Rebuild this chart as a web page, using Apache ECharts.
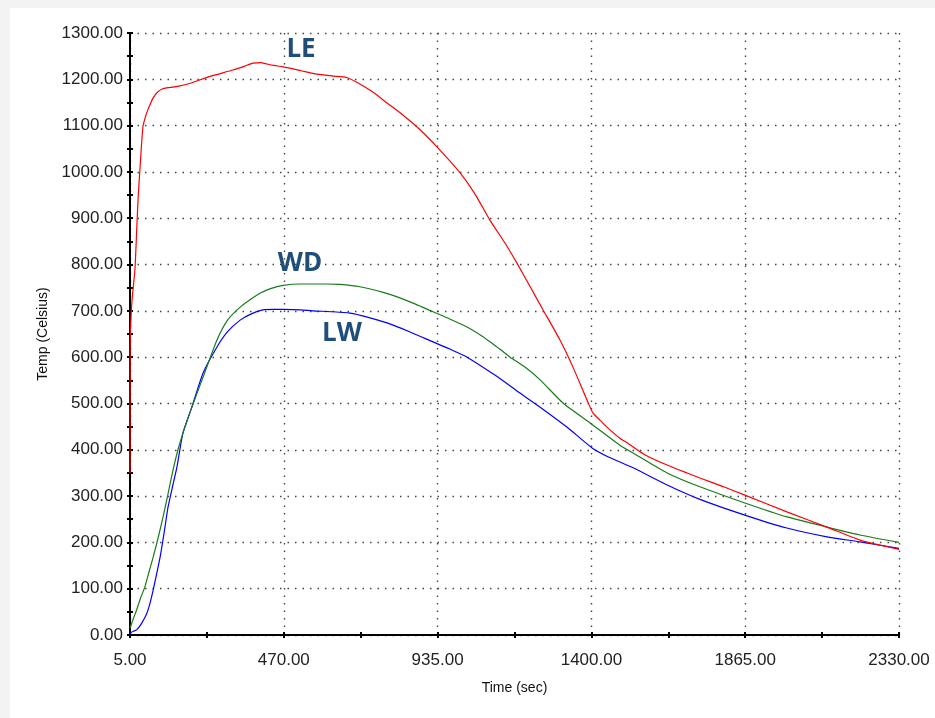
<!DOCTYPE html>
<html>
<head>
<meta charset="utf-8">
<script src="https://cdn.jsdelivr.net/npm/echarts@6/dist/echarts.min.js"></script>
<style>
  html, body { margin: 0; padding: 0; background: #f3f3f3; width: 935px; height: 718px; overflow: hidden; }
  #chart { position: absolute; left: 10px; top: 8px; width: 925px; height: 710px; background: #ffffff; }
</style>
</head>
<body>
<div id="chart"></div>
<script>
// ---- data ----
var xTickLabels = ['5.00', '470.00', '935.00', '1400.00', '1865.00', '2330.00'];
var yTickLabels = ['0.00','100.00','200.00','300.00','400.00','500.00','600.00','700.00','800.00','900.00','1000.00','1100.00','1200.00','1300.00'];

var timeLE = [5,5.5,9,12,20,25,30,35,44,52,59,67,75,88,102,120,135,156,190,217,260,316,350,377,400,419,440,468,520,570,620,660,700,740,782,830,882,933,1003,1050,1093,1140,1175,1215,1254,1305,1344,1387,1405,1426,1447,1486,1508,1560,1629,1728,1800,1864,1991,2112,2212,2330];
var tempLE = [350,630,700,730,790,870,950,1005,1097,1120,1134,1148,1160,1172,1179,1182,1183,1186,1192,1199,1209,1220,1228,1235,1236,1233,1230,1227,1219,1211,1207,1204,1190,1172,1149,1123,1091,1054,998,950,896,845,803,752,702,637,579,507,479,464,449,425,415,390,367,339,320,302,266,233,205,185];

var timeWD = [5,15,25,37,50,62,75,90,105,120,135,150,165,192,226,268,300,338,370,398,430,468,520,558,600,640,700,770,821,870,921,970,1024,1070,1103,1124,1154,1200,1245,1314,1396,1486,1526,1629,1728,1864,1991,2112,2212,2330];
var tempWD = [15,35,54,80,104,135,168,210,255,305,356,400,436,492,557,637,680,708,725,738,748,755,758,758,758,757,752,740,728,714,698,683,665,645,628,617,600,578,551,501,458,410,393,350,320,285,255,233,216,200];

var timeLW = [5,15,25,40,56,66,75,85,96,108,120,135,147,165,192,226,268,300,338,370,407,440,468,520,558,620,670,720,782,850,921,970,1024,1115,1175,1245,1326,1402,1450,1526,1629,1728,1864,1991,2112,2212,2330];
var tempLW = [4,8,11,25,47,70,97,130,168,220,276,325,363,436,492,566,622,655,680,693,702,703,703,702,700,698,695,687,674,655,633,618,600,558,527,492,449,404,385,361,324,293,259,231,212,201,187];

var seriesNames = ['LE', 'WD', 'LW'];

function pairs(xs, ys) {
  var out = [];
  for (var i = 0; i < xs.length; i++) out.push([xs[i], ys[i]]);
  return out;
}

var chart = echarts.init(document.getElementById('chart'));
var labelFont = 'Liberation Sans, Arial, sans-serif';

var baseX = {
  type: 'value', min: 5, max: 2330, interval: 465,
  position: 'bottom'
};
var baseY = {
  type: 'value', min: 0, max: 1300, interval: 100,
  position: 'left'
};

var option = {
  animation: false,
  backgroundColor: '#ffffff',
  grid: { left: 120, top: 25, width: 769, height: 602, containLabel: false },
  xAxis: [
    Object.assign({}, baseX, {
      name: 'Time (sec)', nameLocation: 'middle', nameGap: 46,
      nameTextStyle: { fontFamily: labelFont, fontSize: 14, color: '#111' },
      axisLine: { show: true, lineStyle: { color: '#000', width: 2 } },
      axisTick: { show: true, inside: false, length: 3, lineStyle: { color: '#000', width: 2 } },
      minorTick: { show: true, splitNumber: 2, length: 3, lineStyle: { color: '#000', width: 2 } },
      axisLabel: {
        margin: 17, fontFamily: labelFont, fontSize: 17, color: '#222',
        formatter: function (v) { return v.toFixed(2); }
      },
      splitLine: { show: true, lineStyle: { color: '#444', width: 1.4, type: [1.5, 6] } }
    }),
    Object.assign({}, baseX, {
      axisLine: { show: false },
      axisTick: { show: true, inside: true, length: 3, lineStyle: { color: '#000', width: 2 } },
      minorTick: { show: true, splitNumber: 2, length: 3, lineStyle: { color: '#000', width: 2 } },
      axisLabel: { show: false },
      splitLine: { show: false }
    })
  ],
  yAxis: [
    Object.assign({}, baseY, {
      name: 'Temp (Celsius)', nameLocation: 'middle', nameGap: 80, nameRotate: 90,
      nameTextStyle: { fontFamily: labelFont, fontSize: 14, color: '#111' },
      axisLine: { show: true, lineStyle: { color: '#000', width: 2 } },
      axisTick: { show: true, inside: false, length: 3, lineStyle: { color: '#000', width: 2 } },
      minorTick: { show: true, splitNumber: 2, length: 3, lineStyle: { color: '#000', width: 2 } },
      axisLabel: {
        margin: 7, fontFamily: labelFont, fontSize: 17, color: '#222',
        formatter: function (v) { return v.toFixed(2); }
      },
      splitLine: { show: true, lineStyle: { color: '#444', width: 1.4, type: [1.5, 6] } }
    }),
    Object.assign({}, baseY, {
      axisLine: { show: false },
      axisTick: { show: true, inside: true, length: 3, lineStyle: { color: '#000', width: 2 } },
      minorTick: { show: true, splitNumber: 2, length: 3, lineStyle: { color: '#000', width: 2 } },
      axisLabel: { show: false },
      splitLine: { show: false }
    })
  ],
  series: [
    { name: seriesNames[0], type: 'line', xAxisIndex: 0, yAxisIndex: 0, data: pairs(timeLE, tempLE),
      smooth: 0.2,
      showSymbol: false, symbol: 'none', lineStyle: { color: '#ff0000', width: 1.2 }, z: 5 },
    { name: seriesNames[1], type: 'line', xAxisIndex: 0, yAxisIndex: 0, data: pairs(timeWD, tempWD),
      smooth: 0.2,
      showSymbol: false, symbol: 'none', lineStyle: { color: '#1b7a1b', width: 1.2 }, z: 4 },
    { name: seriesNames[2], type: 'line', xAxisIndex: 0, yAxisIndex: 0, data: pairs(timeLW, tempLW),
      smooth: 0.2,
      showSymbol: false, symbol: 'none', lineStyle: { color: '#0000ff', width: 1.2 }, z: 3 }
  ],
  graphic: [
    { type: 'text', x: 291, y: 42, z: 10,
      style: { text: seriesNames[0], fill: '#1f4e79', font: 'bold 26px "Open Sans", sans-serif', align: 'center', verticalAlign: 'middle' } },
    { type: 'text', x: 290, y: 256, z: 10,
      style: { text: seriesNames[1], fill: '#1f4e79', font: 'bold 26px "Open Sans", sans-serif', align: 'center', verticalAlign: 'middle' } },
    { type: 'text', x: 332, y: 326, z: 10,
      style: { text: seriesNames[2], fill: '#1f4e79', font: 'bold 26px "Open Sans", sans-serif', align: 'center', verticalAlign: 'middle' } }
  ]
};
chart.setOption(option);
</script>
</body>
</html>
